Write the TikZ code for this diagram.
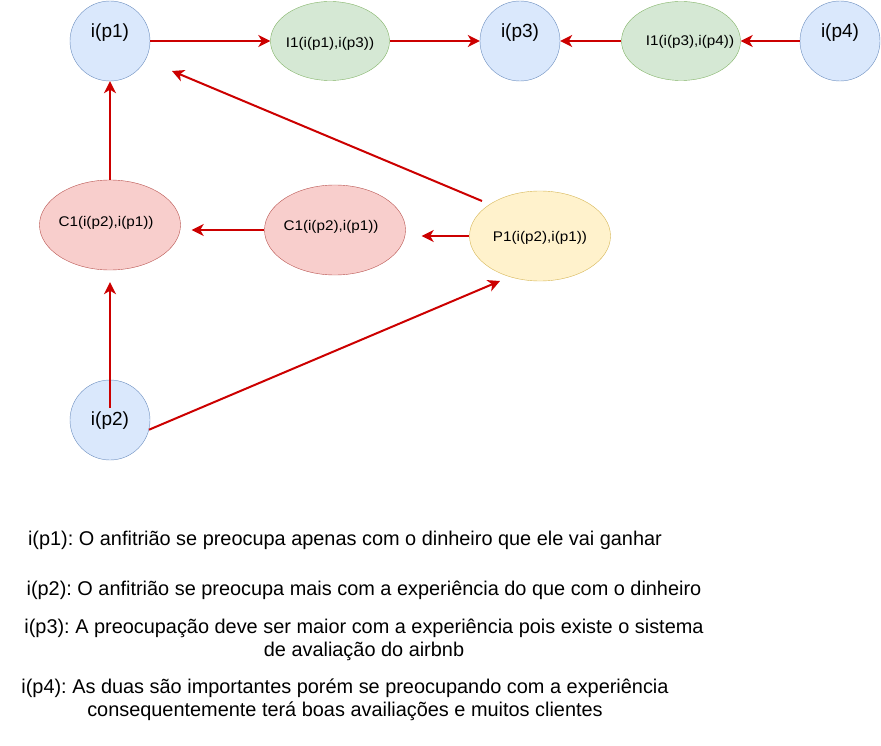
\documentclass[tikz,border=0pt]{standalone}
\usepackage{fontspec}
\setmainfont{Liberation Sans}
\newfontfamily\widesans[FakeStretch=1.09]{Liberation Sans}
\usetikzlibrary{arrows.meta,shapes.geometric}
\definecolor{bfill}{HTML}{DAE8FC}
\definecolor{bdraw}{HTML}{6C8EBF}
\definecolor{gfill}{HTML}{D5E8D4}
\definecolor{gdraw}{HTML}{82B366}
\definecolor{rfill}{HTML}{F8CECC}
\definecolor{rdraw}{HTML}{B85450}
\definecolor{yfill}{HTML}{FFF2CC}
\definecolor{ydraw}{HTML}{D6B656}
\definecolor{arrred}{HTML}{CC0000}
\frenchspacing
\begin{document}
\begin{tikzpicture}[x=1pt,y=-1pt,
  circ/.style={circle, draw=bdraw, fill=bfill, minimum size=80pt, inner sep=0pt},
  circlab/.style={font=\fontsize{19}{21}\selectfont},
  ellbase/.style={ellipse, inner sep=0pt},
  ellg/.style={ellbase, draw=gdraw, fill=gfill, minimum width=119pt, minimum height=79pt},
  ellr/.style={ellbase, draw=rdraw, fill=rfill, minimum width=141pt, minimum height=90pt},
  elly/.style={ellbase, draw=ydraw, fill=yfill, minimum width=141pt, minimum height=90pt},
  elab/.style={font=\widesans\fontsize{14}{16}\selectfont},
  desc/.style={align=center, font=\fontsize{19.9}{23}\selectfont},
  arr/.style={draw=arrred, line width=2pt, -{Stealth[length=12pt,width=12pt,inset=3.5pt]}}
]
\useasboundingbox (0,0) rectangle (881,746);

% top row
\node[circ] (p1) at (110,41) {};
\node[circlab] (p1l) at (110,33) {i(p1)};
\node[ellg] (i1a) at (330,41) {};
\node[elab] (i1al) at (330,44) {I1(i(p1),i(p3))};
\node[circ] (p3) at (520,41) {};
\node[circlab] (p3l) at (520,33) {i(p3)};
\node[ellg] (i1b) at (681,41) {};
\node[elab] (i1bl) at (690,42) {I1(i(p3),i(p4))};
\node[circ] (p4) at (840,41) {};
\node[circlab] (p4l) at (840,33) {i(p4)};

% middle row
\node[ellr] (lc) at (110,225) {};
\node[elab] (lcl) at (106,223) {C1(i(p2),i(p1))};
\node[ellr] (mc) at (335,230) {};
\node[elab] (mcl) at (331,227) {C1(i(p2),i(p1))};
\node[elly] (pp) at (540,236) {};
\node[elab] (ppl) at (540,238) {P1(i(p2),i(p1))};

% bottom
\node[circ] (p2) at (110,420) {};
\node[circlab] (p2l) at (110,421) {i(p2)};

% free arrow ends
\coordinate (t1) at (172,71);
\coordinate (s1) at (482,201);
\coordinate (t2) at (500,281);

% connectors
\draw[arr] (p1.east) -- (i1a.west);
\draw[arr] (i1a.east) -- (p3.west);
\draw[arr] (i1b.west) -- (p3.east);
\draw[arr] (p4.west) -- (i1b.east);
\draw[arr] (lc.north) -- (p1.south);
\draw[arr] ([yshift=12pt]p2.center) -- ([yshift=-12pt]lc.south);
\draw[arr] (mc.west) -- ([xshift=11pt]lc.east |- mc.west);
\draw[arr] (pp.west) -- ([xshift=16pt]mc.east |- pp.west);
\draw[arr] (s1) -- (t1);
\draw[arr] (p2.-14) -- (t2);

% descriptions
\node[desc] (d1) at (345,540) {i(p1): O anfitrião se preocupa apenas com o dinheiro que ele vai ganhar};
\node[desc] (d2) at (364,590) {i(p2): O anfitrião se preocupa mais com a experiência do que com o dinheiro};
\node[desc] (d3) at (364,640) {i(p3): A preocupação deve ser maior com a experiência pois existe o sistema\\de avaliação do airbnb};
\node[desc] (d4) at (345,700) {i(p4): As duas são importantes porém se preocupando com a experiência\\consequentemente terá boas availiações e muitos clientes};
\end{tikzpicture}
\end{document}
